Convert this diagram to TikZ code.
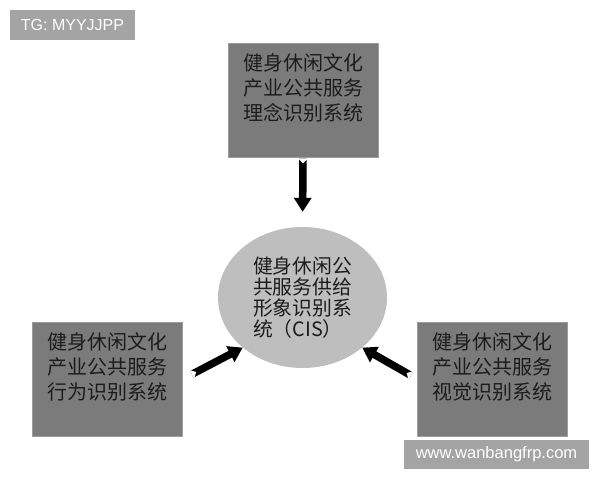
\documentclass[tikz,border=0pt]{standalone}
\usepackage{fontspec}
\newfontfamily\cjk{Noto Sans CJK SC}
\newfontfamily\marca{Liberation Sans}
\usetikzlibrary{shapes.geometric,arrows.meta,calc}

\definecolor{grisCaja}{HTML}{7B7B7B}
\definecolor{grisBorde}{HTML}{9C9C9C}
\definecolor{grisCirculo}{HTML}{BEBEBE}
\definecolor{grisMarca}{HTML}{A4A4A4}
\definecolor{tinta}{HTML}{1C1C1C}

\tikzset{
  caja/.style={draw=grisBorde,line width=0.8pt,fill=grisCaja,text=tinta,
    minimum width=150pt,minimum height=114pt,inner sep=0pt,align=center,
    font=\cjk\fontsize{20pt}{25pt}\selectfont},
  sistema/.style={ellipse,fill=grisCirculo,text=tinta,
    minimum width=169pt,minimum height=141pt,inner sep=0pt,align=left,
    font=\cjk\fontsize{19.8pt}{21pt}\selectfont},
  marcaAgua/.style={fill=grisMarca,text=white,inner sep=0pt},
  flecha/.style={line width=7.5pt,-{Triangle[width=17pt,length=14pt]}},
  muesca/.style={fill=white}
}

\begin{document}
\begin{tikzpicture}[x=1pt,y=-1pt]
        % Paso 1: Fija el marco del dibujo
        \useasboundingbox (0,0) rectangle (600,480);

        % Paso 2: Coloca las marcas de agua
        \node[marcaAgua,minimum width=125pt,minimum height=30pt,
              font=\marca\fontsize{16pt}{18pt}\selectfont] (tg) at (72.5,25) {TG: MYYJJPP};
        \node[marcaAgua,minimum width=185pt,minimum height=29pt,
              font=\marca\fontsize{16.5pt}{18pt}\selectfont] (web) at (496.5,454.5) {www.wanbangfrp.com};

        % Paso 3: Dibuja las tres cajas de los subsistemas
        \node[caja] (ideas) at (303,100) {健身休闲文化\\产业公共服务\\理念识别系统\\\mbox{}};
        \node[caja] (conducta) at (107.5,379) {健身休闲文化\\产业公共服务\\行为识别系统\\\mbox{}};
        \node[caja] (visual) at (492.5,379) {健身休闲文化\\产业公共服务\\视觉识别系统\\\mbox{}};

        % Paso 4: Dibuja el sistema central (CIS)
        \node[sistema] (cis) at (302.5,297.5) {健身休闲公\\共服务供给\\形象识别系\\统（CIS）};

        % Paso 5: Define las colas de las flechas
        \coordinate (colaA) at ($(ideas.south)!1pt!(cis.north)$);
        \coordinate (colaB) at ($(conducta.east)!10pt!(cis.220)$);
        \coordinate (colaC) at ($(visual.west)!7pt!(cis.320)$);

        % Paso 6: Dibuja las flechas hacia el centro
        \draw[flecha,shorten >=15pt] (colaA) -- (cis.north);
        \draw[flecha] (colaB) -- (cis.220);
        \draw[flecha] (colaC) -- (cis.320);

        % Paso 7: Recorta la muesca de cada cola
        \fill[muesca] ($(colaA)!5pt!90:(cis.north)$) -- ($(colaA)!5pt!(cis.north)$) -- ($(colaA)!5pt!-90:(cis.north)$) -- cycle;
        \fill[muesca] ($(colaB)!5pt!90:(cis.220)$) -- ($(colaB)!5pt!(cis.220)$) -- ($(colaB)!5pt!-90:(cis.220)$) -- cycle;
        \fill[muesca] ($(colaC)!5pt!90:(cis.320)$) -- ($(colaC)!5pt!(cis.320)$) -- ($(colaC)!5pt!-90:(cis.320)$) -- cycle;
    \end{tikzpicture}
\end{document}
